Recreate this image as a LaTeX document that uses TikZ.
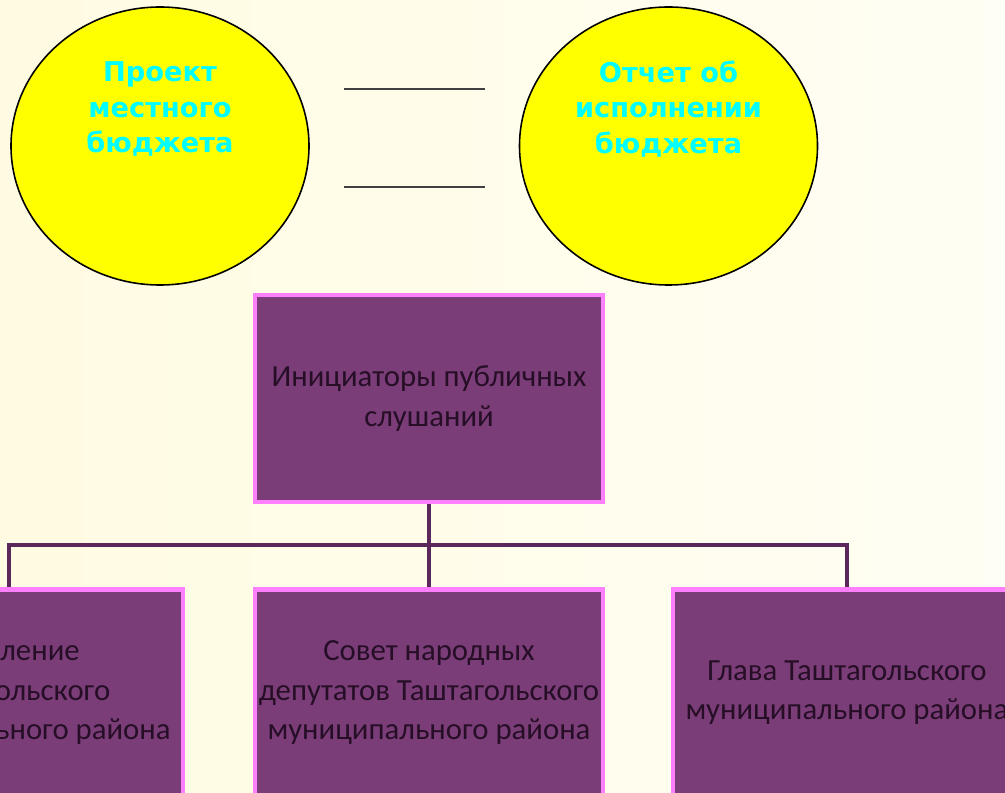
\documentclass[tikz,border=0pt]{standalone}
\usepackage{fontspec}
\setmainfont{Carlito}
\newfontfamily\bubblefont{DejaVu Sans}
\usepackage{tikz}
\usetikzlibrary{positioning, shapes.geometric}
\usepackage{xcolor}

\definecolor{cream}{RGB}{255,251,226}
\definecolor{creamlight}{RGB}{255,254,244}
\definecolor{bubblefill}{RGB}{255,255,0}
\definecolor{boxfill}{RGB}{122,61,120}
\definecolor{boxedge}{RGB}{255,128,255}
\definecolor{boxtext}{RGB}{38,14,38}
\definecolor{busline}{RGB}{92,40,92}
\definecolor{bubbletext}{RGB}{0,255,255}

\begin{document}
\begin{tikzpicture}[node distance=1.66cm]
  \tikzstyle{bubble}=[ellipse, draw=black, line width=0.9pt, fill=bubblefill,
    minimum width=5.96cm, minimum height=5.56cm, inner sep=0pt]
  \tikzstyle{bubblelabel}=[align=center, text=bubbletext,
    font=\bubblefont\bfseries\fontsize{15.5}{20.4}\selectfont]
  \tikzstyle{orgbox}=[rectangle, draw=boxedge, line width=2.5pt, fill=boxfill,
    minimum width=6.96cm, minimum height=4.14cm, inner sep=1pt, align=center,
    text=boxtext, font=\fontsize{17.5}{22.4}\selectfont]
  \tikzstyle{bus}=[draw=busline, line width=2.4pt]

  \useasboundingbox (0,0) rectangle (20.1,15.84);
  \clip (0,0) rectangle (20.1,15.84);
  \fill[left color=cream, right color=creamlight] (0,0) rectangle (20.1,15.84);

  % budget documents
  \node[bubble] (proj)   at (3.2,12.92)   {};
  \node[bubble] (otchet) at (13.37,12.92) {};
  \node[bubblelabel] (projtext)   at ([yshift=0.74cm]proj.center)   {Проект\\местного\\бюджета};
  \node[bubblelabel] (otchettext) at ([yshift=0.74cm]otchet.center) {Отчет об\\исполнении\\бюджета};

  \coordinate (l1a) at (6.88,14.06);
  \coordinate (l1b) at (9.70,14.06);
  \coordinate (l2a) at (6.88,12.10);
  \coordinate (l2b) at (9.70,12.10);
  \draw[line width=0.8pt, black!75] (l1a) -- (l1b);
  \draw[line width=0.8pt, black!75] (l2a) -- (l2b);

  % initiators
  \node[orgbox] (init) at (8.58,7.87) {Инициаторы публичных\\слушаний};
  \node[orgbox] (sovet) [below=of init] {Совет народных\\депутатов Таштагольского\\муниципального района};
  \node[orgbox] (nasel) [left=1.35cm of sovet] {Население\\Таштагольского\\муниципального района};
  \node[orgbox] (glava) [right=1.31cm of sovet] {Глава Таштагольского\\муниципального района};

  \coordinate (busy) at ([yshift=0.84cm]sovet.north);

  \path[bus] (init.south) -- (sovet.north);
  \path[bus] (nasel.north) -- (nasel.north |- busy) -- (glava.north |- busy) -- (glava.north);
\end{tikzpicture}
\end{document}
